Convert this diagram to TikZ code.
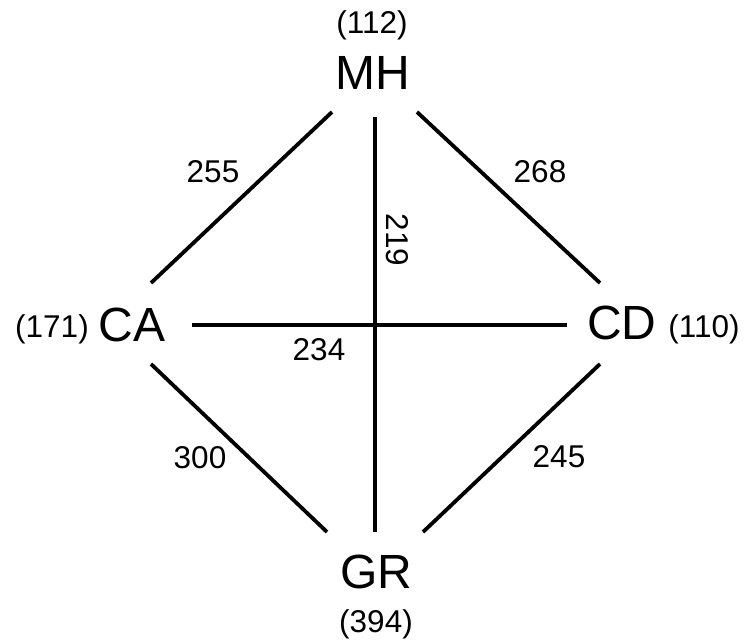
\documentclass[tikz,border=0pt]{standalone}
\usepackage{fontspec}
\setmainfont{Liberation Sans}
\usetikzlibrary{calc}
\begin{document}
\begin{tikzpicture}[x=1pt,y=-1pt,
  city/.style={inner sep=0pt,font=\fontsize{48}{56}\selectfont},
  num/.style={inner sep=0pt,font=\fontsize{31.5}{38}\selectfont},
  road/.style={line width=3.8pt,black}]
\useasboundingbox (0,0) rectangle (744,640);
% cities
\node[city] (MH) at (373,72.5) {MH};
\node[city] (CA) at (132,325) {CA};
\node[city] (CD) at (622,323) {CD};
\node[city] (GR) at (376,572) {GR};
% populations
\node[num,anchor=base] (pMH) at (372,33) {(112)};
\node[num,anchor=base] (pCA) at (52,337) {(171)};
\node[num,anchor=base] (pCD) at (704,337) {(110)};
\node[num,anchor=base] (pGR) at (376,632) {(394)};
% roads
\draw[road] ($(MH)+(-41,39.5)$) -- ($(CA)+(19,-42)$);
\draw[road] ($(MH)+(44,39.5)$) -- ($(CD)+(-22,-40)$);
\draw[road] ($(MH)+(2,44.5)$) -- ($(GR)+(-1,-40)$);
\draw[road] ($(CA)+(60,0)$) -- ($(CD)+(-55,2)$);
\draw[road] ($(CA)+(19,39)$) -- ($(GR)+(-49,-40)$);
\draw[road] ($(CD)+(-22,41)$) -- ($(GR)+(47,-40)$);
% distances
\node[num] (d1) at (213,172) {255};
\node[num] (d2) at (540,172) {268};
\node[num,rotate=-90] (d3) at (397,240) {219};
\node[num] (d4) at (319,350) {234};
\node[num] (d5) at (200,458) {300};
\node[num] (d6) at (559,457) {245};
\end{tikzpicture}
\end{document}
